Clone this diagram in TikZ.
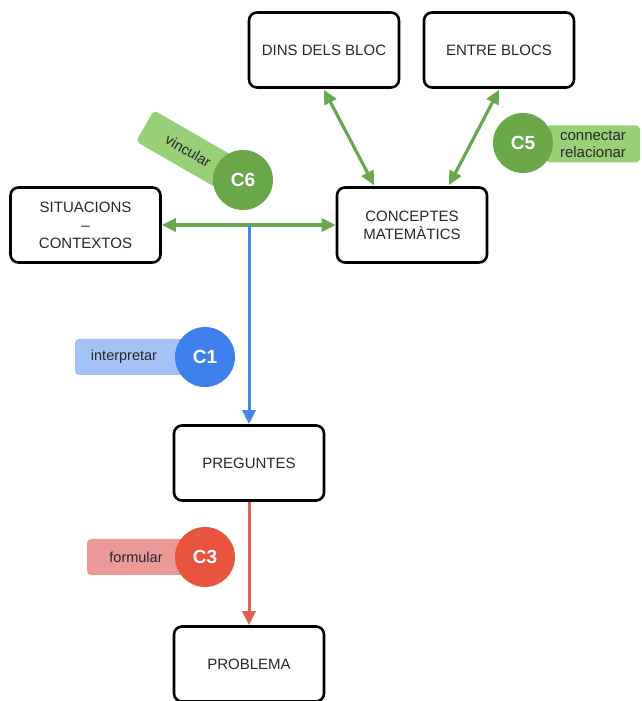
\documentclass[tikz,border=0pt]{standalone}
\usepackage{fontspec}
\setmainfont{Liberation Sans}
\usetikzlibrary{arrows.meta,calc}
\definecolor{gline}{RGB}{106,168,79}
\definecolor{gcirc}{RGB}{106,168,74}
\definecolor{glab}{RGB}{151,208,119}
\definecolor{bline}{RGB}{74,134,232}
\definecolor{bcirc}{RGB}{62,128,236}
\definecolor{blab}{RGB}{164,194,244}
\definecolor{rline}{RGB}{224,98,80}
\definecolor{rcirc}{RGB}{232,84,62}
\definecolor{rlab}{RGB}{234,153,153}
\definecolor{txt}{RGB}{40,40,40}
\begin{document}
\begin{tikzpicture}[x=1pt,y=1pt,
  box/.style={draw=black,fill=white,line width=2.6pt,rounded corners=8pt,minimum width=150pt,minimum height=75pt,align=center,font=\fontsize{15}{18}\selectfont,text=txt,inner sep=0pt},
  badge/.style={circle,minimum size=60pt,inner sep=0pt,text=white,font=\fontsize{19}{19}\selectfont\bfseries},
  tag/.style={rounded corners=4pt,minimum height=36pt,inner sep=0pt,align=center,font=\fontsize{14.5}{17}\selectfont,text=txt},
  tip/.style={-{Triangle[length=14pt,width=13pt]}},
  both/.style={{Triangle[length=14pt,width=13pt]}-{Triangle[length=14pt,width=13pt]}}
]
\useasboundingbox (0,0) rectangle (642,701);
% boxes (y = 701 - pixel y)
\node[box] (dins) at (324,651) {DINS DELS BLOC};
\node[box] (entre) at (499,651) {ENTRE BLOCS};
\node[box] (sit) at (85.5,476) {SITUACIONS\\–\\CONTEXTOS};
\node[box] (conc) at (412,476) {CONCEPTES\\MATEMÀTICS};
\node[box] (preg) at (249,238) {PREGUNTES};
\node[box] (prob) at (249,37) {PROBLEMA};
% connectors
\coordinate (j) at (249,476);
\draw[gline,line width=3.2pt,both] (sit.east) -- (conc.west);
\draw[bline,line width=3pt,tip] (j) -- (preg.north);
\draw[rline,line width=3pt,tip] (preg.south) -- (prob.north);
\draw[gline,line width=3.2pt,both] ($(dins.south)+(0,-1)$) -- ($(conc.north)+(-38,1)$);
\draw[gline,line width=3.2pt,both] ($(entre.south)+(0,-1)$) -- ($(conc.north)+(37,1)$);
% badges
\coordinate (c6p) at (243,521);
\node[tag,fill=glab,minimum width=100pt,rotate=-30] (l6) at ($(c6p)+(152:62)$) {vincular};
\node[badge,fill=gcirc] (c6) at (c6p) {C6};
\node[tag,fill=glab,minimum width=94pt,minimum height=37pt,font=\fontsize{15}{17}\selectfont] (l5) at (593,557) {connectar\\relacionar};
\node[badge,fill=gcirc] (c5) at (523,558) {C5};
\node[tag,fill=blab,minimum width=110pt] (l1) at (130,344) {interpretar\hspace{12pt}};
\node[badge,fill=bcirc] (c1) at (205,344) {C1};
\node[tag,fill=rlab,minimum width=98pt] (l3) at (136,144) {formular};
\node[badge,fill=rcirc] (c3) at (205,144) {C3};
\end{tikzpicture}
\end{document}
